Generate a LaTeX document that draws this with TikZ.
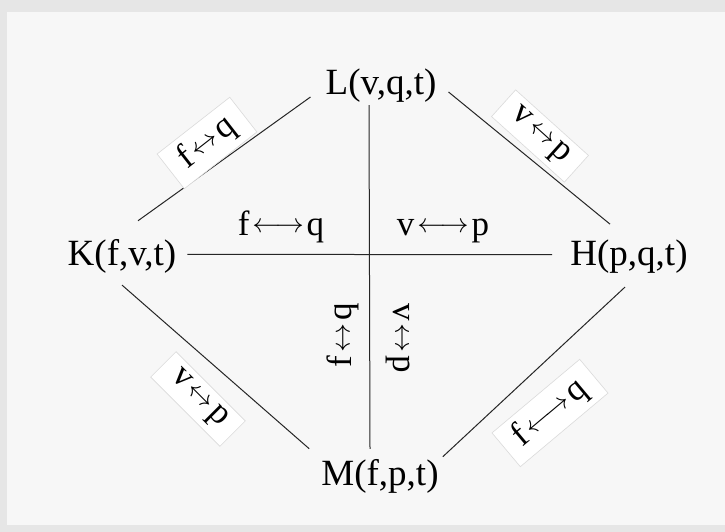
\documentclass[tikz,border=0pt]{standalone}
\usepackage{fontspec}
\setmainfont{Liberation Serif}
\usetikzlibrary{positioning,calc}
\definecolor{paper}{RGB}{247,247,247}
\definecolor{paperedge}{RGB}{230,230,230}
\definecolor{stripcol}{RGB}{218,218,218}
\tikzset{
  state/.style={inner sep=0pt,anchor=base,font=\fontsize{37}{40}\selectfont},
  xlab/.style={inner sep=0pt,anchor=base,font=\fontsize{35}{38}\selectfont},
  vlab/.style={inner sep=0pt,font=\fontsize{35}{38}\selectfont},
  strip/.style={draw=stripcol,fill=white,line width=0.6pt,inner xsep=14pt,inner ysep=6pt,font=\fontsize{35}{38}\selectfont},
  link/.style={line width=1pt,color=black!85}
}
\newcommand{\xch}[2]{#1\kern3pt\raisebox{2pt}{\scalebox{2.9}[2.7]{\normalsize$\leftrightarrow$}}\kern3pt#2}
\newcommand{\xchlong}[2]{#1\kern3pt\raisebox{2pt}{\scalebox{2.8}[2.7]{\normalsize$\longleftrightarrow$}}\kern3pt#2}

\begin{document}
\begin{tikzpicture}[x=1pt,y=-1pt]
  %% paper
  \fill[paperedge] (0,0) rectangle (725,532);
  \fill[paper] (7,12) rectangle (725,525);
  \useasboundingbox (0,0) rectangle (725,532);

  %% states
  \node[state] (L) at (381,95) {L(v,q,t)};
  \node[state] (K) at (122,265) {K(f,v,t)};
  \node[state] (H) at (629,265) {H(p,q,t)};
  \node[state] (M) at (380,485) {M(f,p,t)};

  %% connectors
  \draw[link] ([shift={(-15,2)}]L.base west) -- ([shift={(16,-18)}]K.north);
  \draw[link] ([shift={(12,-3)}]L.base east) -- ([shift={(-19,-15)}]H.north);
  \draw[link] ([shift={(0,12)}]K.south) -- ([shift={(-12,-10)}]M.north west);
  \draw[link] ([shift={(-4,14)}]H.south) -- ([shift={(4,-2)}]M.north east);
  \draw[link,shorten <=11pt,shorten >=18pt] ([yshift=1.5pt]K.east) -- ([yshift=1.5pt]H.west);
  \draw[link] ([shift={(-12,2)}]L.south) -- ([shift={(-10,-10)}]M.north);

  %% exchange labels, middle
  \node[xlab] (fqh) at (281,235) {\xchlong{f}{q}};
  \node[xlab] (vph) at (443,235) {\xchlong{v}{p}};
  \node[vlab,rotate=90] (fqv) at (343,335) {\xch{f}{q}};
  \node[vlab,rotate=-90] (vpv) at (398,338) {\xch{v}{p}};

  %% exchange labels on the outer edges
  \node[strip,rotate=38] (fqa) at (207,143) {\xch{f}{q}};
  \node[strip,rotate=-42] (vpa) at (540,136) {\xch{v}{p}};
  \node[strip,rotate=-45] (vpb) at (198,399) {\xch{v}{p}};
  \node[strip,rotate=40] (fqb) at (550,413) {\xchlong{f}{q}};
\end{tikzpicture}
\end{document}
